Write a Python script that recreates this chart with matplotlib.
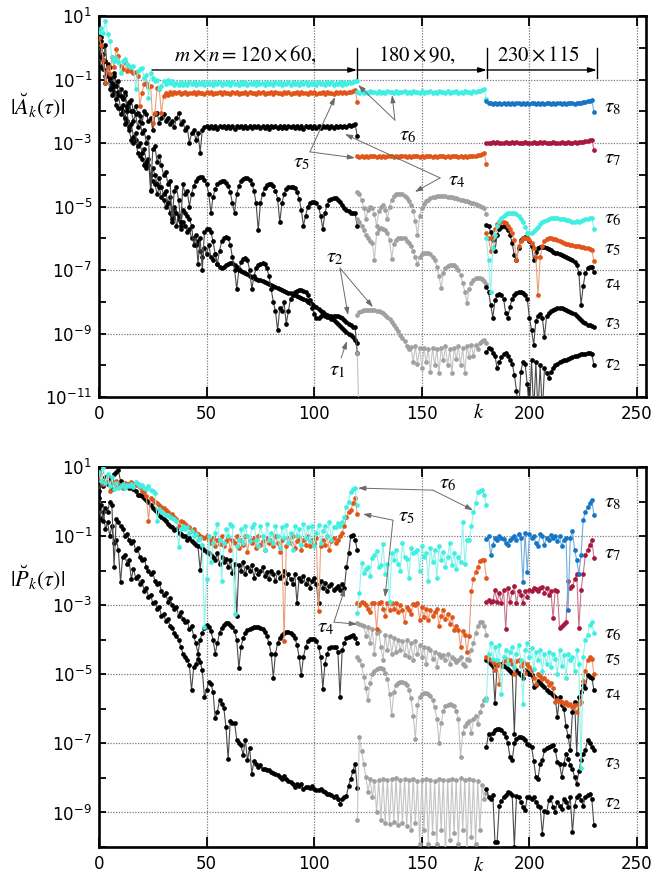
import numpy as np
import matplotlib
matplotlib.use('Agg')
import matplotlib.pyplot as plt
from matplotlib.ticker import FixedLocator, FuncFormatter, NullLocator
from matplotlib.transforms import blended_transform_factory

# ---------------- data (log10 of values), top panel |A_k| ----------------
# segment 1: k = 0..120 ; segment 2: k = 120..180 ; segment 3: k = 180..230
SEG1_START, SEG2_START, SEG3_START = 0, 120, 180

A1_t1 = [-0.2, -0.6, -0.4, -1.1, -0.8, -1.3, -1.5, -1.4, -1.8, -1.9,
         -2.1, -2.0, -2.4, -2.3, -2.6, -2.9, -3.0, -2.9, -3.3, -3.4,
         -3.5, -3.7, -3.8, -3.7, -4.0, -4.2, -4.3, -4.6, -4.4, -4.7,
         -4.8, -5.0, -4.9, -5.2, -5.3, -5.1, -5.6, -5.4, -5.7, -5.5,
         -5.6, -5.8, -5.7, -6.0, -6.0, -6.2, -6.1, -6.4, -6.6, -6.3,
         -6.5, -6.2, -6.6, -6.7, -6.5, -6.8, -6.9, -6.95, -6.9, -6.85,
         -6.8, -6.78, -6.79, -6.85, -6.92, -6.98, -7.03, -7.07, -7.1, -7.14,
         -7.18, -7.21, -7.24, -7.27, -7.3, -7.33, -7.35, -7.38, -7.41, -7.44,
         -7.47, -7.5, -7.53, -7.56, -7.59, -7.62, -7.65, -7.68, -7.71, -7.74,
         -7.77, -7.8, -7.83, -7.86, -7.89, -7.92, -7.96, -8.0, -8.04, -8.08,
         -8.13, -8.18, -8.23, -8.28, -8.33, -8.38, -8.43, -8.48, -8.53, -8.58,
         -8.64, -8.7, -8.76, -8.82, -8.88, -8.94, -9.0, -9.06, -9.12, -9.2,
         -9.3]
A1_t2 = [0.1, -0.3, -0.2, -0.9, -0.5, -1.0, -1.3, -1.2, -1.6, -1.5,
         -1.9, -1.8, -2.2, -2.0, -2.5, -2.4, -2.8, -2.7, -3.1, -3.0,
         -3.3, -3.2, -3.6, -3.5, -4.5, -3.8, -4.0, -4.3, -4.1, -4.4,
         -4.6, -4.5, -4.9, -4.7, -5.5, -5.0, -5.2, -5.3, -5.6, -5.1,
         -5.2, -5.3, -5.4, -5.6, -6.2, -5.9, -6.8, -6.0, -7.0, -5.8,
         -5.7, -5.7, -5.8, -6.1, -6.5, -6.8, -6.4, -6.1, -6.0, -5.95,
         -6.0, -6.2, -6.6, -7.0, -7.6, -7.0, -6.75, -6.65, -6.63, -6.7,
         -7.0, -7.6, -7.2, -6.95, -6.85, -6.8, -6.79, -6.82, -6.95, -7.2,
         -7.6, -8.0, -8.3, -8.9, -8.2, -8.3, -8.0, -8.7, -8.3, -7.9,
         -7.8, -7.7, -7.65, -7.63, -7.63, -7.65, -7.7, -7.8, -7.95, -8.2,
         -8.4, -8.5, -8.5, -8.45, -8.4, -8.45, -8.47, -8.45, -8.44, -8.44,
         -8.45, -8.46, -8.48, -8.52, -8.58, -8.64, -8.7, -8.74, -8.78, -8.8,
         -9.6]
A1_t3 = [0.2, 0.35, -0.4, 0.1, -0.9, -0.6, -1.2, -0.8, -1.1, -1.4,
         -1.3, -1.6, -1.5, -1.9, -1.7, -2.0, -2.3, -2.1, -2.5, -2.3,
         -2.7, -2.6, -3.0, -2.8, -4.48, -3.2, -3.1, -3.6, -3.4, -3.7,
         -4.0, -3.9, -4.3, -4.2, -5.4, -4.5, -4.4, -4.8, -5.5, -4.3,
         -4.6, -4.5, -5.0, -4.6, -4.35, -4.2, -4.1, -4.06, -4.08, -4.15,
         -4.3, -4.6, -5.2, -4.7, -4.45, -4.3, -4.22, -4.2, -4.2, -4.25,
         -4.35, -4.55, -4.9, -5.2, -4.6, -4.35, -4.2, -4.12, -4.1, -4.1,
         -4.15, -4.28, -4.5, -4.9, -5.75, -4.9, -4.6, -4.42, -4.33, -4.3,
         -4.3, -4.35, -4.5, -4.75, -5.5, -4.9, -4.6, -4.45, -4.4, -4.38,
         -4.38, -4.42, -4.55, -4.75, -5.1, -5.6, -5.3, -5.0, -4.9, -4.85,
         -4.85, -4.9, -5.0, -5.3, -5.7, -5.2, -4.95, -4.8, -4.75, -4.72,
         -4.74, -4.78, -4.85, -4.95, -5.05, -5.1, -5.15, -5.2, -5.2, -5.22,
         -5.6]
A1_t4 = [0.1, 0.2, -0.68, -0.42, -0.55, -0.94, -1.1, -0.9, -1.2, -1.05,
         -1.52, -1.57, -1.4, -1.83, -1.75, -1.65, -2.0, -1.85, -2.04, -2.15,
         -2.36, -2.0, -2.1, -2.3, -2.2, -2.6, -2.1, -2.04, -2.36, -2.2,
         -2.1, -2.3, -2.2, -2.4, -2.3, -2.5, -2.2, -2.06, -2.4, -2.3,
         -2.6, -2.5, -3.0, -2.7, -2.6, -2.9, -2.7, -3.3, -2.6, -2.5,
         -2.47, -2.53, -2.46, -2.52, -2.48, -2.55, -2.46, -2.51, -2.47, -2.54,
         -2.48, -2.52, -2.46, -2.55, -2.47, -2.51, -2.48, -2.53, -2.46, -2.52,
         -2.47, -2.54, -2.48, -2.51, -2.46, -2.53, -2.47, -2.52, -2.48, -2.55,
         -2.46, -2.51, -2.47, -2.53, -2.48, -2.52, -2.46, -2.54, -2.47, -2.51,
         -2.48, -2.53, -2.46, -2.52, -2.47, -2.55, -2.48, -2.51, -2.46, -2.53,
         -2.47, -2.52, -2.48, -2.54, -2.46, -2.51, -2.47, -2.53, -2.48, -2.52,
         -2.46, -2.5, -2.47, -2.51, -2.45, -2.49, -2.44, -2.47, -2.42, -2.4,
         -2.78]
A1_t5 = [0.3, 0.1, -0.4, -1.1, -0.6, -0.84, -0.3, -0.6, -0.05, -0.25,
         -0.57, -0.68, -0.45, -0.73, -0.6, -0.73, -0.8, -0.75, -0.9, -1.83,
         -1.41, -1.15, -1.1, -1.25, -1.2, -2.36, -2.04, -1.26, -1.3, -2.06,
         -1.52, -1.41, -1.5, -1.38, -1.45, -1.4, -1.44, -1.39, -1.45, -1.41,
         -1.4, -1.45, -1.41, -1.44, -1.39, -1.45, -1.4, -1.43, -1.41, -1.45,
         -1.39, -1.44, -1.4, -1.45, -1.41, -1.43, -1.39, -1.45, -1.4, -1.44,
         -1.41, -1.45, -1.39, -1.43, -1.4, -1.45, -1.41, -1.44, -1.39, -1.45,
         -1.4, -1.43, -1.41, -1.45, -1.39, -1.44, -1.4, -1.45, -1.41, -1.43,
         -1.39, -1.45, -1.4, -1.44, -1.41, -1.45, -1.39, -1.43, -1.4, -1.45,
         -1.41, -1.44, -1.39, -1.45, -1.4, -1.43, -1.41, -1.45, -1.39, -1.44,
         -1.4, -1.45, -1.41, -1.43, -1.39, -1.45, -1.4, -1.44, -1.41, -1.45,
         -1.39, -1.43, -1.4, -1.44, -1.39, -1.42, -1.38, -1.4, -1.36, -1.33,
         -1.71]
A1_t6 = [0.5, 0.62, 0.45, 0.85, 0.42, 0.2, -0.3, -0.42, -0.31, -0.45,
         -0.8, -0.42, -0.36, -0.5, -0.57, -0.62, -0.57, -1.31, -0.72, -0.68,
         -0.63, -0.95, -0.85, -1.57, -0.78, -0.95, -1.05, -1.02, -1.3, -1.2,
         -1.05, -1.15, -1.0, -1.12, -1.05, -1.18, -1.1, -1.17, -1.08, -1.16,
         -1.1, -1.17, -1.09, -1.15, -1.08, -1.16, -1.1, -1.14, -1.08, -1.17,
         -1.09, -1.15, -1.1, -1.16, -1.08, -1.14, -1.09, -1.17, -1.1, -1.15,
         -1.08, -1.16, -1.09, -1.14, -1.1, -1.17, -1.08, -1.15, -1.09, -1.16,
         -1.1, -1.14, -1.08, -1.17, -1.09, -1.15, -1.1, -1.16, -1.08, -1.14,
         -1.1, -1.17, -1.09, -1.15, -1.08, -1.16, -1.1, -1.14, -1.08, -1.17,
         -1.09, -1.15, -1.1, -1.16, -1.08, -1.14, -1.09, -1.17, -1.1, -1.15,
         -1.08, -1.16, -1.09, -1.14, -1.1, -1.17, -1.08, -1.15, -1.09, -1.16,
         -1.1, -1.14, -1.08, -1.16, -1.09, -1.13, -1.08, -1.12, -1.07, -1.06,
         -1.05]

A2_t1 = [-9.6, -12.0]
A2_t2 = [-8.42, -8.32, -8.28, -8.26, -8.25, -8.25, -8.25, -8.26, -8.27, -8.28,
         -8.3, -8.33, -8.37, -8.42, -8.48, -8.55, -8.63, -8.72, -8.82, -8.92,
         -9.05, -9.15, -9.25, -9.4, -9.5, -9.42, -9.9, -9.4, -9.95, -9.45,
         -10.1, -9.45, -9.9, -9.5, -10.2, -9.45, -10.0, -9.5, -10.25, -9.45,
         -9.85, -9.4, -10.0, -9.5, -10.25, -9.45, -9.8, -9.4, -10.0, -9.45,
         -10.25, -9.4, -9.75, -9.35, -9.7, -9.35, -9.5, -9.3, -9.25, -9.2,
         -9.3]
A2_t3 = [-5.4, -5.5, -5.6, -5.75, -5.9, -6.0, -6.1, -6.16, -6.68, -5.84,
         -5.72, -5.69, -5.7, -5.75, -5.85, -6.05, -6.64, -6.17, -6.05, -6.0,
         -5.98, -5.98, -6.0, -6.08, -6.15, -6.25, -6.4, -6.6, -6.8, -6.6,
         -6.5, -6.46, -6.45, -6.46, -6.5, -6.58, -6.7, -6.9, -7.2, -7.58,
         -7.1, -6.95, -6.88, -6.85, -6.84, -6.85, -6.9, -7.0, -7.15, -7.4,
         -7.7, -8.04, -7.6, -7.4, -7.3, -7.26, -7.25, -7.26, -7.28, -7.35,
         -7.45]
A2_t4 = [-4.53, -4.62, -4.8, -5.05, -5.4, -5.1, -5.0, -5.05, -5.25, -5.6,
         -5.15, -5.0, -4.95, -5.1, -5.4, -5.0, -4.8, -4.68, -4.62, -4.6,
         -4.6, -4.62, -4.66, -4.72, -4.82, -4.95, -5.15, -5.45, -5.9, -5.3,
         -5.05, -4.92, -4.84, -4.78, -4.74, -4.71, -4.69, -4.68, -4.67, -4.67,
         -4.67, -4.68, -4.69, -4.7, -4.71, -4.72, -4.74, -4.76, -4.78, -4.8,
         -4.82, -4.84, -4.86, -4.88, -4.9, -4.93, -4.96, -4.99, -5.02, -5.05,
         -5.25]
A2_t5 = [-3.42, -3.44, -3.4, -3.43, -3.41, -3.44, -3.4, -3.42, -3.41, -3.44,
         -3.4, -3.43, -3.41, -3.44, -3.4, -3.42, -3.41, -3.43, -3.4, -3.44,
         -3.41, -3.42, -3.4, -3.44, -3.41, -3.43, -3.4, -3.42, -3.41, -3.44,
         -3.4, -3.43, -3.41, -3.42, -3.4, -3.44, -3.41, -3.43, -3.4, -3.42,
         -3.41, -3.44, -3.4, -3.43, -3.41, -3.42, -3.4, -3.44, -3.41, -3.43,
         -3.4, -3.43, -3.41, -3.42, -3.4, -3.41, -3.38, -3.37, -3.35, -3.32,
         -3.66]
A2_t6 = [-1.38, -1.42, -1.37, -1.41, -1.38, -1.42, -1.37, -1.4, -1.38, -1.42,
         -1.37, -1.41, -1.38, -1.42, -1.37, -1.4, -1.38, -1.41, -1.37, -1.42,
         -1.38, -1.4, -1.37, -1.42, -1.38, -1.41, -1.37, -1.4, -1.38, -1.42,
         -1.37, -1.41, -1.38, -1.4, -1.37, -1.42, -1.38, -1.41, -1.37, -1.4,
         -1.38, -1.42, -1.37, -1.41, -1.38, -1.4, -1.37, -1.42, -1.38, -1.41,
         -1.37, -1.4, -1.38, -1.41, -1.37, -1.39, -1.36, -1.35, -1.33, -1.31,
         -1.62]

A3_t2 = [-9.57, -9.47, -9.5, -9.6, -9.7, -10.1, -9.9, -9.75, -9.65, -9.62,
         -9.7, -9.85, -9.95, -10.3, -10.8, -11.5, -10.2, -9.9, -9.95, -10.6,
         -11.5, -9.85, -11.5, -9.9, -11.5, -10.0, -11.5, -10.1, -10.25, -10.4,
         -10.2, -10.1, -10.0, -9.95, -9.9, -9.88, -9.85, -9.82, -9.8, -9.78,
         -9.75, -9.72, -9.7, -9.68, -9.66, -9.65, -9.63, -9.62, -9.62, -9.65,
         -10.0]
A3_t3 = [-7.52, -7.68, -8.1, -8.5, -7.95, -7.8, -7.75, -7.78, -7.9, -8.37,
         -8.5, -8.15, -7.9, -7.8, -7.73, -7.7, -7.7, -7.73, -7.8, -7.9,
         -8.5, -8.9, -9.36, -8.6, -8.45, -8.4, -8.5, -9.1, -8.45, -8.35,
         -8.3, -8.26, -8.22, -8.2, -8.19, -8.2, -8.22, -8.25, -8.28, -8.32,
         -8.36, -8.4, -8.45, -8.52, -8.58, -8.64, -8.68, -8.72, -8.74, -8.76,
         -8.8]
A3_t4 = [-5.58, -5.62, -5.8, -6.06, -6.4, -5.9, -5.7, -5.63, -5.62, -5.66,
         -5.75, -5.9, -6.15, -6.54, -6.7, -6.3, -6.05, -5.98, -5.97, -6.0,
         -6.08, -6.25, -6.7, -6.43, -6.32, -6.28, -6.27, -6.28, -6.31, -6.35,
         -6.38, -6.42, -6.45, -6.48, -6.51, -6.54, -6.57, -6.6, -6.63, -6.66,
         -6.7, -6.75, -6.85, -7.1, -8.1, -7.5, -7.1, -6.95, -6.9, -6.92,
         -7.06]
A3_t5 = [-5.85, -6.0, -6.4, -5.95, -5.7, -5.56, -5.5, -5.48, -5.49, -5.53,
         -5.6, -5.7, -5.85, -6.05, -6.7, -6.25, -6.1, -6.0, -5.98, -6.0,
         -6.05, -6.15, -6.3, -6.6, -7.8, -6.6, -6.25, -6.1, -6.03, -6.0,
         -6.0, -6.01, -6.03, -6.06, -6.09, -6.12, -6.15, -6.17, -6.19, -6.2,
         -6.22, -6.23, -6.24, -6.25, -6.27, -6.28, -6.3, -6.32, -6.34, -6.37,
         -6.71]
A3_t6 = [-6.0, -6.7, -7.7, -6.3, -5.9, -5.6, -5.45, -5.37, -5.3, -5.25,
         -5.22, -5.21, -5.2, -5.22, -5.25, -5.3, -5.38, -5.5, -5.65, -5.82,
         -5.85, -5.83, -5.78, -5.7, -5.63, -5.56, -5.5, -5.45, -5.41, -5.39,
         -5.37, -5.36, -5.36, -5.37, -5.38, -5.38, -5.4, -5.42, -5.44, -5.46,
         -5.48, -5.48, -5.47, -5.48, -5.45, -5.42, -5.4, -5.38, -5.37, -5.36,
         -5.7]
A3_t7 = [-3.0, -2.99, -3.01, -2.98, -3.0, -2.97, -3.01, -2.99, -3.0, -2.98,
         -3.01, -2.99, -2.97, -3.0, -2.98, -3.01, -2.99, -3.0, -2.97, -3.01,
         -2.99, -3.0, -2.98, -3.01, -2.99, -2.97, -3.0, -2.98, -3.01, -2.99,
         -3.0, -2.97, -3.01, -2.99, -3.0, -2.98, -3.01, -2.99, -2.97, -3.0,
         -2.99, -2.97, -3.0, -2.98, -2.97, -2.96, -2.95, -2.94, -2.92, -2.89,
         -3.22]
A3_t8 = [-1.68, -1.75, -1.73, -1.77, -1.74, -1.76, -1.73, -1.77, -1.75, -1.76,
         -1.73, -1.77, -1.74, -1.76, -1.73, -1.75, -1.77, -1.74, -1.76, -1.73,
         -1.77, -1.75, -1.74, -1.76, -1.73, -1.77, -1.74, -1.76, -1.75, -1.73,
         -1.77, -1.74, -1.76, -1.73, -1.75, -1.77, -1.74, -1.76, -1.73, -1.75,
         -1.74, -1.76, -1.73, -1.75, -1.74, -1.72, -1.71, -1.69, -1.67, -1.64,
         -2.01]

# ---------------- data (log10), bottom panel |P_k| ----------------
P1_t2 = [-0.2, -0.5, -0.3, -0.8, -0.6, -1.0, -0.7, -1.2, -1.1, -1.4,
         -2.33, -1.6, -1.55, -1.8, -1.7, -2.24, -1.95, -2.2, -2.15, -2.4,
         -2.3, -2.6, -2.5, -2.75, -2.7, -2.95, -2.9, -3.1, -3.05, -3.3,
         -3.25, -3.45, -3.4, -3.6, -3.65, -3.8, -3.9, -4.0, -4.2, -4.4,
         -4.5, -4.6, -4.74, -5.46, -4.8, -4.69, -4.55, -4.64, -4.89, -5.66,
         -5.46, -5.22, -5.27, -5.51, -6.28, -6.09, -5.75, -5.85, -5.97, -6.53,
         -7.45, -6.35, -6.4, -6.4, -6.89, -7.0, -7.06, -7.35, -6.89, -7.49,
         -7.12, -7.88, -7.52, -7.59, -7.68, -7.64, -7.73, -7.73, -7.76, -7.78,
         -7.82, -7.86, -7.88, -7.92, -7.96, -8.02, -7.95, -8.04, -8.1, -8.12,
         -8.19, -8.27, -8.17, -8.22, -8.17, -8.31, -8.27, -8.25, -8.29, -8.22,
         -8.31, -8.34, -8.36, -8.31, -8.38, -8.41, -8.46, -8.46, -8.5, -8.55,
         -8.52, -8.6, -8.75, -8.6, -8.55, -8.51, -8.22, -8.02, -7.8, -7.59,
         -8.3]
P1_t3 = [0.1, -0.1, -0.56, -0.2, -0.3, 0.0, -0.1, -1.9, -0.5, -0.6,
         -0.7, -0.8, -1.0, -0.95, -1.1, -1.2, -1.15, -1.4, -1.35, -1.6,
         -1.7, -1.65, -1.9, -2.0, -2.1, -2.05, -2.3, -2.4, -2.35, -2.6,
         -2.7, -2.65, -2.9, -2.8, -3.0, -3.1, -3.05, -3.3, -3.2, -3.4,
         -3.5, -3.45, -3.7, -3.6, -3.9, -4.1, -4.4, -4.0, -3.8, -3.65,
         -3.58, -3.62, -3.75, -4.0, -4.4, -4.1, -3.8, -3.65, -3.57, -3.53,
         -3.53, -3.56, -3.62, -3.75, -4.0, -4.83, -4.2, -3.95, -3.8, -3.72,
         -3.68, -3.65, -3.64, -3.64, -3.64, -3.66, -3.7, -3.78, -3.9, -4.1,
         -4.4, -5.1, -4.4, -4.1, -3.95, -3.85, -3.8, -3.78, -3.78, -3.8,
         -3.85, -3.95, -4.15, -4.5, -5.03, -4.5, -4.2, -4.05, -3.98, -3.97,
         -3.98, -4.05, -4.2, -4.5, -5.42, -4.7, -4.4, -4.25, -4.2, -4.2,
         -4.22, -4.35, -5.66, -4.3, -4.1, -3.95, -3.92, -3.9, -3.87, -3.95,
         -4.1]
P1_t4 = [0.3, 0.6, 0.45, 0.7, 0.5, 0.65, 0.35, 0.8, 0.85, 0.9,
         0.6, 0.5, 0.45, 0.52, 0.4, 0.42, 0.35, 0.3, 0.18, 0.2,
         0.15, 0.1, 0.05, 0.0, -0.1, -0.2, -0.25, -0.3, -0.4, -0.45,
         -0.5, -0.55, -0.65, -0.7, -0.75, -0.83, -0.8, -0.9, -0.95, -1.0,
         -1.0, -1.1, -1.05, -1.15, -1.2, -1.25, -1.3, -1.97, -1.35, -1.4,
         -1.45, -1.5, -1.55, -1.6, -1.7, -1.5, -1.8, -1.6, -1.75, -1.65,
         -1.9, -1.7, -2.06, -1.8, -3.3, -1.85, -2.0, -1.75, -2.1, -1.9,
         -2.0, -1.85, -2.2, -1.95, -2.1, -2.0, -1.9, -2.15, -2.05, -2.25,
         -2.0, -2.1, -2.3, -2.05, -2.2, -2.15, -2.0, -2.35, -2.1, -2.25,
         -2.4, -2.1, -2.95, -2.2, -2.3, -2.15, -2.4, -2.25, -2.5, -2.3,
         -2.2, -2.4, -2.95, -2.3, -2.5, -2.35, -2.6, -2.45, -2.4, -2.55,
         -2.5, -2.45, -2.55, -2.4, -2.51, -1.9, -1.5, -1.0, -0.97, -1.1,
         -1.41]
P1_t5 = [0.7, 0.85, 0.5, 0.6, 0.75, 0.3, 0.55, 0.45, 0.6, 0.5,
         0.45, 0.4, 0.55, 0.5, 0.52, 0.57, 0.5, 0.48, 0.5, 0.42,
         0.3, 0.28, 0.15, -0.55, 0.1, 0.05, 0.0, -0.05, -0.1, -0.15,
         -0.2, -0.25, -0.3, -0.4, -0.35, -0.45, -0.5, -0.7, -0.55, -0.6,
         -0.65, -0.7, -0.75, -0.85, -0.8, -0.9, -0.95, -1.0, -1.03, -1.05,
         -1.0, -1.1, -1.2, -1.05, -1.3, -1.1, -1.22, -1.0, -1.3, -1.15,
         -1.05, -1.4, -1.1, -1.2, -1.0, -1.35, -1.1, -1.25, -1.0, -1.45,
         -1.1, -1.2, -1.05, -1.35, -1.0, -1.25, -1.15, -1.4, -1.05, -1.2,
         -1.1, -1.3, -1.0, -1.2, -1.45, -1.1, -4.05, -1.3, -1.05, -1.2,
         -1.0, -1.35, -1.15, -1.05, -1.4, -1.1, -1.25, -1.0, -1.3, -1.1,
         -1.2, -1.05, -3.18, -1.3, -1.1, -1.25, -1.0, -1.4, -1.15, -1.05,
         -1.2, -1.1, -1.0, -0.9, -0.7, -0.45, -0.3, -0.25, -0.05, 0.1,
         -0.36]
P1_t6 = [0.85, 0.6, 1.0, 0.55, 0.8, 0.45, 0.7, 0.35, 0.55, 0.4,
         0.45, 0.5, 0.4, 0.47, 0.45, 0.52, 0.42, 0.57, 0.5, 0.45,
         0.47, 0.4, 0.35, 0.45, 0.32, 0.3, 0.25, -0.55, -0.21, -0.3,
         -0.35, -0.4, -0.38, -0.45, -0.48, -0.5, -0.55, -1.32, -0.79, -0.7,
         -0.8, -0.75, -0.9, -0.85, -1.0, -0.95, -1.1, -1.05, -1.27, -3.64,
         -2.24, -1.0, -1.75, -1.2, -0.9, -0.64, -1.1, -2.29, -1.2, -0.8,
         -1.0, -0.64, -0.7, -3.25, -1.3, -1.1, -0.8, -1.2, -0.7, -1.0,
         -1.15, -0.75, -0.64, -1.1, -1.3, -0.7, -1.0, -1.4, -0.65, -1.1,
         -0.9, -1.2, -0.7, -1.0, -1.35, -0.75, -1.05, -0.68, -1.2, -0.9,
         -1.4, -0.7, -1.0, -0.8, -1.25, -0.66, -1.05, -0.75, -1.15, -0.7,
         -1.3, -0.9, -0.68, -1.2, -0.85, -0.7, -1.0, -0.6, -1.1, -0.75,
         -0.75, -0.62, -0.7, -0.6, -0.45, -0.15, 0.0, 0.29, 0.35, 0.38,
         -0.1]

P2_t2 = [-9.23, -6.82, -7.21, -7.6, -7.98, -8.4, -8.03, -8.56, -8.1, -9.0,
         -8.05, -9.23, -8.02, -9.3, -8.05, -9.33, -8.02, -9.28, -8.0, -9.35,
         -8.05, -9.3, -8.02, -9.4, -8.05, -9.52, -8.02, -9.3, -8.1, -9.9,
         -8.05, -9.52, -8.02, -9.9, -8.05, -9.6, -8.1, -9.9, -8.02, -9.52,
         -8.05, -10.2, -8.05, -9.8, -8.02, -9.6, -8.05, -9.9, -8.0, -9.5,
         -8.05, -10.1, -8.02, -9.7, -8.05, -9.9, -8.1, -9.5, -8.2, -8.6,
         -8.45]
P2_t3 = [-4.5, -4.58, -4.74, -5.08, -5.4, -5.75, -5.25, -5.0, -4.9, -4.85,
         -4.83, -4.83, -4.86, -4.95, -5.15, -5.56, -6.19, -5.5, -5.3, -5.24,
         -5.22, -5.22, -5.25, -5.32, -5.45, -5.7, -6.2, -6.87, -5.9, -5.65,
         -5.56, -5.54, -5.54, -5.56, -5.62, -5.75, -5.95, -6.3, -7.0, -6.4,
         -6.05, -5.92, -5.88, -5.87, -5.88, -5.93, -6.05, -6.3, -7.4, -6.7,
         -6.5, -6.4, -6.35, -6.7, -6.3, -6.2, -6.45, -6.1, -5.9, -5.75,
         -5.7]
P2_t4 = [-3.53, -3.55, -3.58, -3.6, -3.9, -3.62, -4.1, -3.7, -4.4, -3.8,
         -3.75, -4.2, -4.6, -3.85, -4.3, -3.9, -4.4, -3.95, -4.35, -4.0,
         -4.3, -4.05, -4.45, -4.0, -4.5, -4.1, -4.6, -4.05, -4.4, -4.15,
         -4.5, -4.2, -4.7, -4.25, -4.3, -4.55, -4.35, -4.8, -4.4, -4.5,
         -4.45, -4.6, -4.4, -4.7, -4.5, -4.55, -4.65, -4.6, -4.5, -4.7,
         -4.75, -4.55, -4.6, -4.3, -4.1, -3.8, -3.6, -3.5, -3.5, -3.6,
         -3.85]
P2_t5 = [-2.95, -3.0, -2.9, -2.95, -3.0, -3.1, -3.2, -2.95, -2.93, -3.68,
         -2.95, -2.92, -3.1, -3.3, -2.95, -3.14, -2.93, -3.1, -2.95, -3.2,
         -3.0, -3.15, -3.49, -3.05, -3.15, -3.25, -2.97, -3.0, -2.95, -3.43,
         -3.05, -3.35, -3.1, -3.43, -3.15, -3.3, -3.2, -3.12, -3.6, -3.3,
         -3.15, -3.4, -3.25, -3.55, -3.35, -3.72, -3.6, -3.72, -4.2, -3.75,
         -3.85, -4.35, -3.9, -2.6, -2.23, -2.03, -1.9, -1.72, -1.68, -1.7,
         -2.2]
P2_t6 = [-3.24, -2.66, -1.78, -2.07, -1.95, -1.9, -2.15, -1.63, -1.55, -1.43,
         -1.9, -1.85, -1.22, -2.1, -1.8, -2.9, -1.5, -1.7, -1.4, -1.8,
         -2.0, -1.2, -1.6, -1.65, -2.2, -1.35, -1.5, -1.45, -1.4, -2.0,
         -1.3, -1.6, -1.5, -2.3, -1.35, -1.75, -1.4, -2.2, -1.3, -1.7,
         -1.45, -1.9, -1.6, -1.2, -1.85, -1.5, -1.95, -1.6, -1.75, -0.6,
         -1.8, -1.1, -1.12, -0.7, -0.31, -0.05, 0.28, 0.3, 0.33, 0.2,
         -0.1]

P3_t2 = [-8.31, -8.56, -8.6, -8.5, -9.85, -9.85, -8.8, -8.66, -8.56, -8.5,
         -8.41, -8.45, -8.5, -10.0, -8.52, -8.56, -8.7, -8.85, -8.94, -8.56,
         -8.56, -8.6, -8.56, -8.7, -8.8, -8.85, -9.63, -8.95, -9.0, -8.65,
         -8.56, -8.85, -9.0, -8.7, -8.8, -8.9, -8.6, -8.7, -8.85, -8.56,
         -9.58, -8.8, -8.56, -8.5, -8.65, -8.8, -8.56, -8.5, -8.46, -8.6,
         -9.37]
P3_t3 = [-7.1, -6.72, -6.86, -6.7, -6.62, -6.57, -6.58, -6.62, -6.7, -6.82,
         -7.0, -7.4, -7.49, -7.0, -6.86, -6.82, -6.82, -6.85, -6.91, -7.01,
         -7.05, -7.1, -7.5, -7.97, -8.02, -7.6, -7.49, -7.2, -7.12, -7.1,
         -7.07, -7.06, -7.2, -7.53, -7.59, -7.97, -7.6, -7.3, -7.45, -7.63,
         -7.75, -7.97, -8.17, -7.8, -7.49, -7.3, -7.2, -6.91, -7.0, -7.1,
         -7.2]
P3_t4 = [-4.59, -4.65, -4.69, -4.75, -5.84, -4.72, -4.69, -4.7, -4.75, -4.8,
         -4.85, -4.9, -4.95, -6.72, -4.88, -4.95, -5.03, -5.1, -4.88, -4.92,
         -5.0, -5.03, -5.37, -5.3, -5.2, -5.25, -5.3, -5.37, -5.45, -5.5,
         -5.55, -5.6, -5.66, -6.24, -5.66, -5.9, -6.0, -6.5, -6.8, -7.2,
         -6.1, -5.8, -7.3, -5.66, -5.5, -5.3, -5.41, -5.03, -5.08, -5.1,
         -5.46]
P3_t5 = [-4.5, -4.55, -4.6, -4.65, -4.88, -4.7, -5.27, -4.75, -4.62, -4.55,
         -4.58, -4.6, -4.7, -5.0, -4.62, -4.6, -4.75, -4.65, -4.95, -4.7,
         -4.8, -4.88, -5.1, -5.27, -5.0, -5.05, -5.15, -5.1, -5.2, -5.3,
         -5.25, -5.4, -5.8, -5.75, -5.78, -5.8, -5.85, -5.8, -5.9, -5.85,
         -5.94, -5.9, -6.1, -5.85, -5.8, -5.2, -4.9, -4.6, -4.5, -4.55,
         -5.0]
P3_t6 = [-5.75, -4.4, -4.1, -4.55, -4.2, -4.6, -4.15, -5.56, -4.5, -4.3,
         -4.7, -4.35, -4.2, -4.8, -4.4, -4.15, -4.6, -5.85, -4.3, -4.1,
         -4.5, -4.25, -4.85, -4.35, -4.6, -4.3, -4.9, -4.4, -4.7, -4.35,
         -4.8, -4.4, -4.55, -5.0, -4.3, -4.75, -4.45, -5.1, -4.4, -4.6,
         -4.5, -4.9, -4.3, -4.7, -7.7, -4.5, -4.0, -3.86, -3.56, -3.5,
         -3.8]
P3_t7 = [-2.9, -2.85, -2.92, -2.88, -2.57, -2.9, -2.65, -2.95, -2.55, -3.69,
         -2.5, -2.92, -2.62, -2.45, -2.95, -2.6, -2.7, -2.95, -2.6, -2.75,
         -2.55, -2.6, -2.5, -2.52, -2.58, -2.5, -2.48, -2.65, -2.5, -2.7,
         -2.6, -3.37, -2.55, -2.6, -3.66, -3.6, -3.55, -3.5, -2.3, -2.5,
         -2.45, -2.25, -2.1, -3.66, -2.55, -2.1, -1.55, -1.4, -1.25, -1.12,
         -1.62]
P3_t8 = [-1.07, -1.0, -1.55, -1.25, -1.05, -1.1, -1.0, -1.05, -1.08, -1.2,
         -1.25, -1.1, -1.05, -1.0, -1.1, -0.95, -1.05, -2.32, -0.92, -2.03,
         -0.95, -1.05, -1.0, -1.2, -1.3, -0.95, -1.0, -1.25, -1.05, -1.1,
         -0.98, -1.05, -1.0, -1.15, -1.0, -1.3, -1.1, -1.05, -3.14, -1.05,
         -0.85, -1.4, -1.7, -2.1, -1.55, -0.54, -0.3, -0.15, -0.05, 0.04,
         -0.39]

# ---------------- styles ----------------
BLACK = ('#000000', '#4a4a4a')
GRAY = ('#a0a0a0', '#c4c4c4')
CYAN = ('#3ff0e2', '#8ff4ec')
ORANGE = ('#e0561a', '#eba07c')
BLUE = ('#1775c6', '#6fadde')
CRIMSON = ('#a8173e', '#c9738a')

fig = plt.figure(figsize=(6.57, 8.77), dpi=100)
ax1 = fig.add_axes([99/657, 1-397/877, (646-99)/657, (397-16)/877])
ax2 = fig.add_axes([99/657, 1-847/877, (646-99)/657, (847-467)/877])


def draw(ax, k0, vals, style, z):
    k = np.arange(k0, k0 + len(vals))
    y = np.power(10.0, np.asarray(vals, dtype=float))
    ax.plot(k, y, '-', color=style[1], lw=0.8, zorder=z, solid_joinstyle='round')
    ax.plot(k, y, ls='none', marker='o', ms=3.4, mfc=style[0], mec=style[0],
            mew=0, zorder=z + 0.1)


top = [(SEG1_START, A1_t1, BLACK), (SEG1_START, A1_t2, BLACK), (SEG1_START, A1_t3, BLACK),
       (SEG1_START, A1_t4, BLACK), (SEG1_START, A1_t5, ORANGE), (SEG1_START, A1_t6, CYAN),
       (SEG2_START, A2_t1, GRAY), (SEG2_START, A2_t2, GRAY), (SEG2_START, A2_t3, GRAY),
       (SEG2_START, A2_t4, GRAY), (SEG2_START, A2_t5, ORANGE), (SEG2_START, A2_t6, CYAN),
       (SEG3_START, A3_t2, BLACK), (SEG3_START, A3_t3, BLACK), (SEG3_START, A3_t4, BLACK),
       (SEG3_START, A3_t5, ORANGE), (SEG3_START, A3_t6, CYAN), (SEG3_START, A3_t7, CRIMSON),
       (SEG3_START, A3_t8, BLUE)]
for i, (k0, v, st) in enumerate(top):
    draw(ax1, k0, v, st, 3 + i * 0.2)

bot = [(SEG1_START, P1_t2, BLACK), (SEG1_START, P1_t3, BLACK), (SEG1_START, P1_t4, BLACK),
       (SEG1_START, P1_t5, ORANGE), (SEG1_START, P1_t6, CYAN),
       (SEG2_START, P2_t2, GRAY), (SEG2_START, P2_t3, GRAY), (SEG2_START, P2_t4, GRAY),
       (SEG2_START, P2_t5, ORANGE), (SEG2_START, P2_t6, CYAN),
       (SEG3_START, P3_t2, BLACK), (SEG3_START, P3_t3, BLACK), (SEG3_START, P3_t4, BLACK),
       (SEG3_START, P3_t5, ORANGE), (SEG3_START, P3_t6, CYAN), (SEG3_START, P3_t7, CRIMSON),
       (SEG3_START, P3_t8, BLUE)]
for i, (k0, v, st) in enumerate(bot):
    draw(ax2, k0, v, st, 3 + i * 0.2)


def fmt(v, pos):
    e = int(round(np.log10(v)))
    return r'$10^{%d}$' % e if e % 2 != 0 else ''


XMAX = (646 - 99) / 2.152
for ax, ylo, kfrac in ((ax1, -11, -0.04), (ax2, -10, -0.047)):
    ax.set_yscale('log')
    ax.set_xlim(0, XMAX)
    ax.set_ylim(10.0**ylo, 10.0**1)
    ax.xaxis.set_major_locator(FixedLocator([0, 50, 100, 150, 200, 250]))
    ax.yaxis.set_major_locator(FixedLocator(10.0**np.arange(ylo, 2)))
    ax.yaxis.set_minor_locator(NullLocator())
    ax.yaxis.set_major_formatter(FuncFormatter(fmt))
    ax.tick_params(axis='x', direction='in', length=7, width=1.3, top=True,
                   labelsize=12, pad=6)
    ax.tick_params(axis='y', direction='in', length=5, width=1.3, right=True,
                   labelsize=12, pad=5)
    for lab in ax.get_yticklabels():
        lab.set_math_fontfamily('dejavusans')
    for sp in ax.spines.values():
        sp.set_linewidth(1.9)
    for xv in [50, 100, 150, 200, 250]:
        ax.axvline(xv, color='#7a7a7a', lw=0.9, ls=(0, (1, 1.2)), zorder=1)
    for e in range(ylo, 2):
        if e % 2 != 0:
            ax.axhline(10.0**e, color='#7a7a7a', lw=0.9, ls=(0, (1, 1.2)), zorder=1)
    ax.text(176.5, kfrac, r'$k$', transform=blended_transform_factory(ax.transData, ax.transAxes),
            ha='center', va='center', fontsize=15, math_fontfamily='stix')

TXT = dict(math_fontfamily='stix', fontsize=15, ha='center', va='center')
fig.text(38/657, 1-106/877, r'$|\breve{A}_k(\tau)|$', math_fontfamily='stix',
         fontsize=16, ha='center', va='center')
fig.text(38/657, 1-578/877, r'$|\breve{P}_k(\tau)|$', math_fontfamily='stix',
         fontsize=16, ha='center', va='center')

for ax, labs in ((ax1, [(8, -1.87), (7, -3.47), (6, -5.36), (5, -6.31), (4, -7.41),
                        (3, -8.64), (2, -9.93)]),
                 (ax2, [(8, -0.01), (7, -1.49), (6, -3.81), (5, -4.54), (4, -5.55),
                        (3, -7.55), (2, -8.71)])):
    for n, L in labs:
        ax.text(238.5, 10.0**L, r'$\tau_{%d}$' % n, zorder=20, **TXT)


def arrow(ax, start, tip, color='#6a6a6a', lw=0.7):
    ax.annotate('', xy=(tip[0], 10.0**tip[1]), xytext=(start[0], 10.0**start[1]),
                arrowprops=dict(arrowstyle='-|>,head_length=0.45,head_width=0.15',
                                color=color, lw=lw, shrinkA=0, shrinkB=0), zorder=15)


for kb in [120, 180.3, 231.4]:
    ax1.plot([kb, kb], [10.0**0, 10.0**-0.95], color='black', lw=1.0, zorder=15)
for a, b in [(24.6, 120), (120, 180.3), (180.3, 231.4)]:
    ax1.annotate('', xy=(b, 10.0**-0.70), xytext=(a, 10.0**-0.70),
                 arrowprops=dict(arrowstyle='-|>,head_length=0.5,head_width=0.15',
                                 color='black', lw=1.0, shrinkA=0, shrinkB=0), zorder=15)
ax1.text(68, 10.0**-0.23, r'$m\times n = 120\times 60,$', zorder=20, **TXT)
ax1.text(147.8, 10.0**-0.23, r'$180\times 90,$', zorder=20, **TXT)
ax1.text(204, 10.0**-0.23, r'$230\times 115$', zorder=20, **TXT)

ax1.text(143.6, 10.0**-2.75, r'$\tau_6$', zorder=20, **TXT)
arrow(ax1, (137.5, -2.28), (120.4, -1.17))
arrow(ax1, (137.5, -2.28), (136.2, -1.49))
ax1.text(94.3, 10.0**-3.6, r'$\tau_5$', zorder=20, **TXT)
arrow(ax1, (98.0, -3.28), (109.7, -1.55))
arrow(ax1, (98.0, -3.28), (119.0, -3.47))
ax1.text(166.4, 10.0**-4.17, r'$\tau_4$', zorder=20, **TXT)
arrow(ax1, (158.5, -4.1), (114.3, -2.72))
arrow(ax1, (158.5, -4.1), (146.8, -4.54))
ax1.text(109.7, 10.0**-6.59, r'$\tau_2$', zorder=20, **TXT)
arrow(ax1, (112.0, -6.94), (115.7, -8.42))
arrow(ax1, (112.0, -6.94), (127.3, -8.17))
ax1.text(110.6, 10.0**-10.15, r'$\tau_1$', zorder=20, **TXT)
arrow(ax1, (112.5, -9.77), (115.2, -9.24))

ax2.text(162.2, 10.0**0.54, r'$\tau_6$', zorder=20, **TXT)
arrow(ax2, (155.2, 0.33), (120.4, 0.39))
arrow(ax2, (155.2, 0.33), (173.8, -0.25))
ax2.text(143.1, 10.0**-0.42, r'$\tau_5$', zorder=20, **TXT)
arrow(ax2, (136.6, -0.54), (122.7, -0.36))
arrow(ax2, (136.6, -0.54), (132.9, -2.77))
ax2.text(105.5, 10.0**-3.64, r'$\tau_4$', zorder=20, **TXT)
arrow(ax2, (109.2, -3.49), (114.3, -2.51))
arrow(ax2, (109.2, -3.49), (119.9, -3.55))

fig.savefig('out.png', dpi=100)
